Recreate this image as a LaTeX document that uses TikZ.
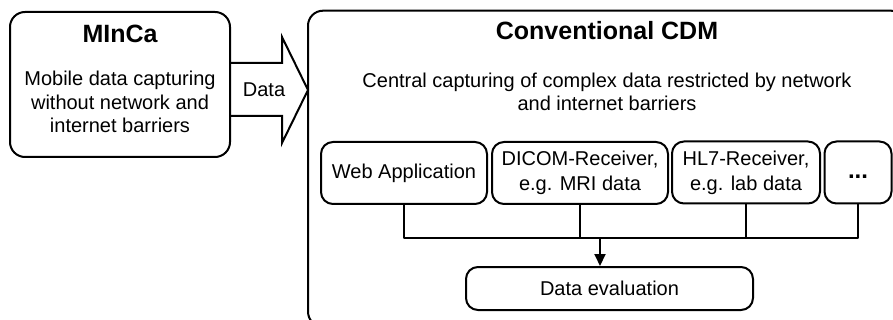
\documentclass[tikz,border=0pt]{standalone}
\usepackage{fontspec}
\setmainfont{Liberation Sans}
\usetikzlibrary{arrows.meta}
\begin{document}
\begin{tikzpicture}[x=1pt,y=-1pt,
  line width=2pt, line join=round,
  bigbox/.style={draw, line width=2pt, rounded corners=15pt, inner sep=0pt},
  stepbox/.style={draw, line width=2pt, rounded corners=12pt, inner sep=0pt, minimum height=62pt,
     font=\fontsize{20}{25}\selectfont, align=center},
  body/.style={font=\fontsize{20}{23.5}\selectfont, align=center, inner sep=0pt},
  ttl/.style={font=\fontsize{25}{28}\selectfont\bfseries, inner sep=0pt},
  conn/.style={line width=2pt}]
\useasboundingbox (0,0) rectangle (893,320);
\clip (0,0) rectangle (893,320);
% left box
\node[bigbox, minimum width=220pt, minimum height=145pt] (minca) at (120,84.5) {};
\node[ttl, anchor=base] (mintitle) at (120,43) {MInCa};
\node[body] (minbody) at (120,102) {Mobile data capturing\\without network and\\internet barriers};
% block arrow
\draw[line width=2pt, line join=miter] (230,63) -- (282,63) -- (282,37) -- (308,90) -- (282,143) -- (282,116) -- (230,116);
\node[body] (datalbl) at (264,90) {Data};
% big box
\node[bigbox, minimum width=598pt, minimum height=316pt] (cdm) at (607,168.7) {};
\node[ttl, anchor=base] (cdmtitle) at (607,40) {Conventional CDM};
\node[body] (cdmbody) at (607,92) {Central capturing of complex data restricted by network\\and internet barriers};
% row
\node[stepbox, minimum width=166pt] (web) at (404,173) {Web Application};
\node[stepbox, minimum width=176pt] (dicom) at (580,173) {DICOM-Receiver,\\e.g. MRI data};
\node[stepbox, minimum width=148pt] (hl7) at (746,172.5) {HL7-Receiver,\\e.g. lab data};
\node[stepbox, minimum width=67pt, font=\fontsize{24}{28}\selectfont\bfseries] (dots) at (858,172.5) {\vphantom{Ag}...};
\node[stepbox, minimum width=287pt, minimum height=43pt] (eval) at (609.5,288.5) {Data evaluation};
% connectors
\coordinate (j) at (600,238);
\draw[conn] (web.south) -- (web.south |- j) -- (dots.south |- j) -- (dots.south);
\draw[conn] (dicom.south) -- (dicom.south |- j);
\draw[conn] (hl7.south) -- (hl7.south |- j);
\draw[conn, -{Triangle[width=11pt,length=12pt]}] (j) -- (j |- eval.north);
\end{tikzpicture}
\end{document}
